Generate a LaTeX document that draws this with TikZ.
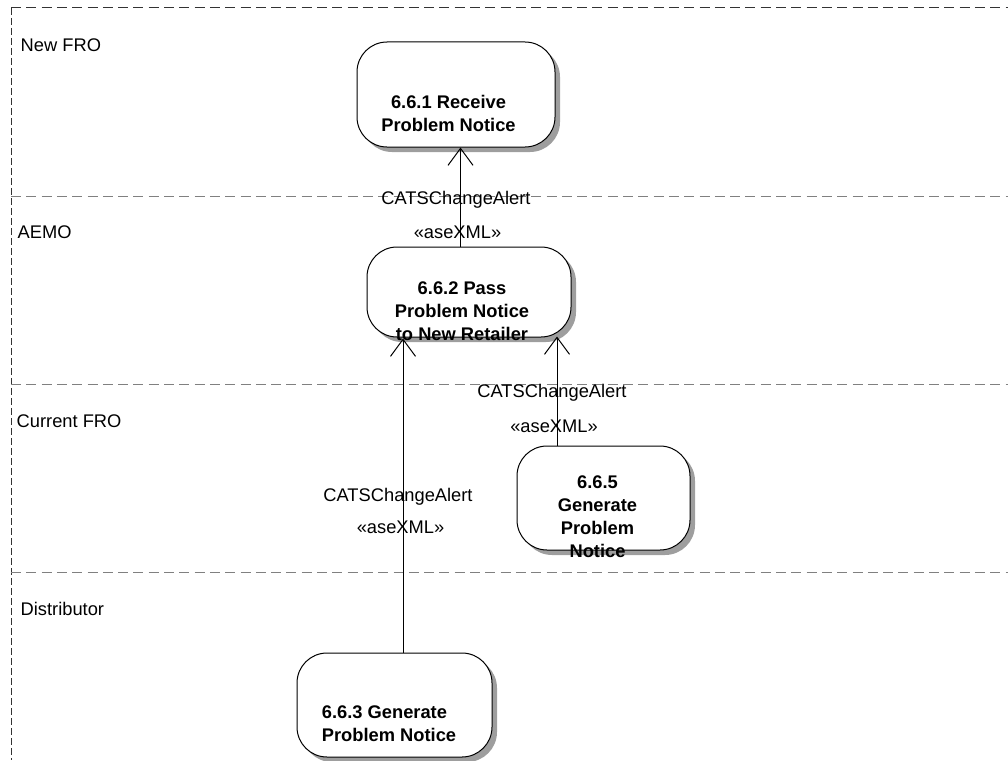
\documentclass[tikz,border=0pt]{standalone}
\usepackage{fontspec}
\setmainfont{Liberation Sans}
\usetikzlibrary{arrows.meta,shadows}
\begin{document}
\begin{tikzpicture}[x=1pt,y=-1pt,
  every node/.style={font=\fontsize{18.3}{23}\selectfont},
  lane/.style={draw=black!50, line width=1pt, dash pattern=on 10pt off 5.3pt},
  frame/.style={draw=black!80, line width=1pt, dash pattern=on 10pt off 5.3pt},
  act/.style={draw=black, line width=1pt, fill=white, rounded corners=30pt, inner sep=0pt,
    drop shadow={shadow xshift=5pt, shadow yshift=-5pt, fill=black!38, opacity=1}},
  acttext/.style={font=\fontsize{18.3}{23}\selectfont\bfseries, align=center, inner sep=0pt},
  lanelabel/.style={anchor=base west, inner sep=0pt},
  msg/.style={anchor=base, inner sep=0pt},
  flow/.style={draw=black, line width=1pt, -{Straight Barb[length=17pt,width=25pt,line width=1pt]}}
]
\useasboundingbox (0,0) rectangle (1008,760);
% swimlanes
\draw[frame] (11,8) -- (1008,8);
\draw[frame, dash pattern=on 7pt off 3pt] (11,8) -- (11,760);
\draw[lane] (11,196) -- (1008,196);
\draw[lane] (11,384) -- (1008,384);
\draw[lane] (11,572) -- (1008,572);
\node[lanelabel] (lNew) at (20.5,52) {New FRO};
\node[lanelabel] (lAEMO) at (17.5,238) {AEMO};
\node[lanelabel] (lCur) at (16.5,427) {Current FRO};
\node[lanelabel] (lDist) at (20.5,615) {Distributor};
% activities
\node[act, minimum width=198pt, minimum height=105pt] (n661) at (456,94.5) {};
\node[acttext] (t661) at (448.5,113.5) {6.6.1 Receive\\Problem Notice};
\node[act, minimum width=204pt, minimum height=90pt] (n662) at (469,292) {};
\node[act, minimum width=173pt, minimum height=104pt] (n665) at (603.5,498) {};
\node[act, minimum width=195pt, minimum height=104pt] (n663) at (394.5,705) {};
% connectors
\draw[flow] (n662.north -| 460.5,0) -- (n661.south -| 460.5,0);
\draw[flow] (n665.north -| 557,0) -- ([yshift=1pt]n662.south -| 557,0);
\draw[flow] (n663.north -| 403,0) -- ([yshift=-1pt]n662.south -| 403,0);
% activity texts
\node[acttext] (t662) at (462,311) {6.6.2 Pass\\Problem Notice\\to New Retailer};
\node[acttext] (t665) at (597.5,517) {6.6.5\\Generate\\Problem\\Notice};
\node[acttext, align=left] (t663) at (389,724) {6.6.3 Generate\\Problem Notice};
% message labels
\node[msg] (m1a) at (456,204) {CATSChangeAlert};
\node[msg] (m1b) at (457.5,238) {«aseXML»};
\node[msg] (m2a) at (552,397) {CATSChangeAlert};
\node[msg] (m2b) at (554,432) {«aseXML»};
\node[msg] (m3a) at (398,501) {CATSChangeAlert};
\node[msg] (m3b) at (400.5,533) {«aseXML»};
\end{tikzpicture}
\end{document}
